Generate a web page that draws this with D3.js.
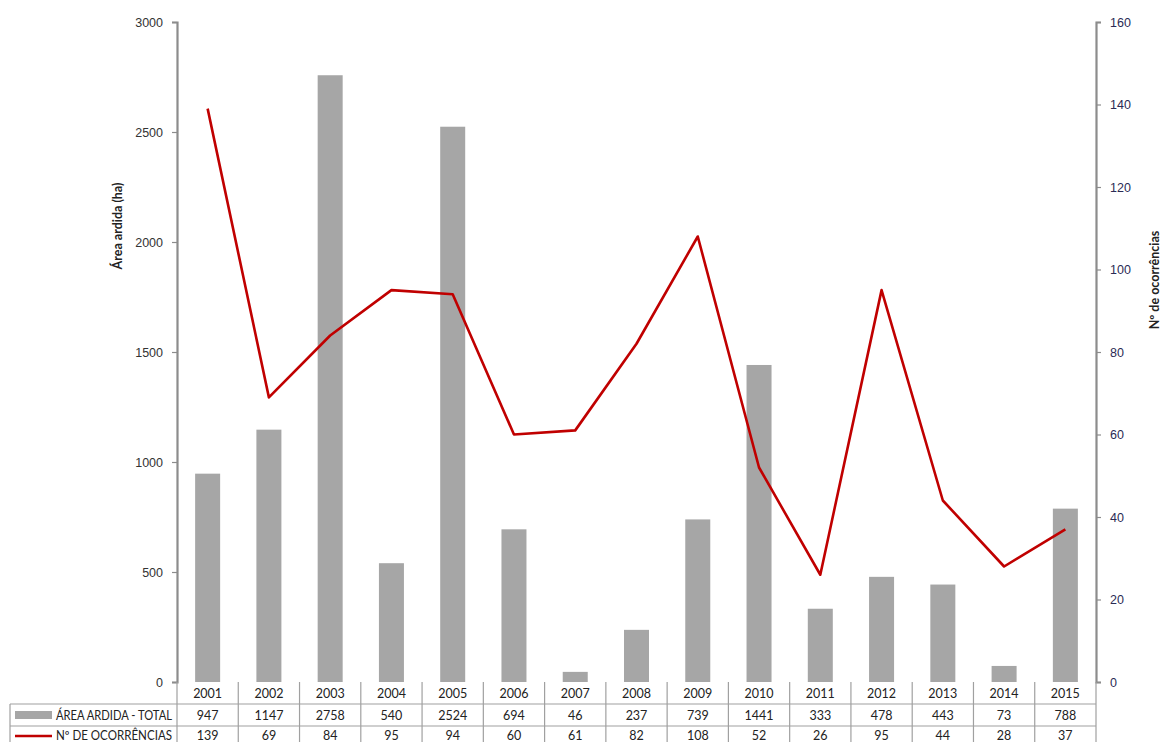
<!DOCTYPE html>
<html>
<head>
<meta charset="utf-8">
<script src="https://cdn.jsdelivr.net/npm/d3@7"></script>
<style>
  html, body { margin: 0; padding: 0; background: #fff; }
  svg { display: block; font-family: Lato, "Open Sans", "Liberation Sans", sans-serif; }
</style>
</head>
<body>
<svg id="chart" width="1162" height="742"></svg>
<script>
// Burnt area and number of fire occurrences per year
const years = ["2001","2002","2003","2004","2005","2006","2007","2008","2009","2010","2011","2012","2013","2014","2015"];
const areaArdida = [947, 1147, 2758, 540, 2524, 694, 46, 237, 739, 1441, 333, 478, 443, 73, 788];
const ocorrencias = [139, 69, 84, 95, 94, 60, 61, 82, 108, 52, 26, 95, 44, 28, 37];
const leftTicks = [0, 500, 1000, 1500, 2000, 2500, 3000];
const rightTicks = [0, 20, 40, 60, 80, 100, 120, 140, 160];
const seriesLabels = ["ÁREA ARDIDA - TOTAL", "Nº DE OCORRÊNCIAS"];

const svg = d3.select("#chart");
const plot = { left: 177, right: 1096, top: 22, bottom: 682 };
const rowH = 22;
const tableLeft = 10;

const x = d3.scaleBand().domain(years).range([plot.left, plot.right]).paddingInner(0).paddingOuter(0);
const yL = d3.scaleLinear().domain([0, 3000]).range([plot.bottom, plot.top]);
const yR = d3.scaleLinear().domain([0, 160]).range([plot.bottom, plot.top]);

const barW = 25;
const axisColor = "#8c8c8c";
const gridColor = "#a0a0a0";
const barColor = "#a6a6a6";
const lineColor = "#c00000";

// Bars
svg.append("g").selectAll("rect").data(years).join("rect")
  .attr("x", d => x(d) + x.bandwidth() / 2 - barW / 2)
  .attr("width", barW)
  .attr("y", (d, i) => yL(areaArdida[i]))
  .attr("height", (d, i) => yL(0) - yL(areaArdida[i]))
  .attr("fill", barColor);

// Line
const line = d3.line()
  .x((d, i) => x(years[i]) + x.bandwidth() / 2)
  .y(d => yR(d));
svg.append("path").datum(ocorrencias)
  .attr("d", line)
  .attr("fill", "none")
  .attr("stroke", lineColor)
  .attr("stroke-width", 2.6)
  .attr("stroke-linejoin", "round");

// Left axis
const gL = svg.append("g").attr("transform", `translate(${plot.left},0)`)
  .call(d3.axisLeft(yL).tickValues(leftTicks).tickSize(5).tickPadding(9).tickFormat(d3.format("d")));
gL.select(".domain").attr("stroke", axisColor).attr("stroke-width", 2.2);
gL.selectAll(".tick line").attr("stroke", axisColor).attr("stroke-width", 1.2);
gL.selectAll(".tick text").attr("fill", "#333").attr("font-size", 12.5);

// Right axis
const gR = svg.append("g").attr("transform", `translate(${plot.right},0)`)
  .call(d3.axisRight(yR).tickValues(rightTicks).tickSize(5).tickPadding(9).tickFormat(d3.format("d")));
gR.select(".domain").attr("stroke", axisColor).attr("stroke-width", 2.2);
gR.selectAll(".tick line").attr("stroke", axisColor).attr("stroke-width", 1.2);
gR.selectAll(".tick text").attr("fill", "#2b2b55").attr("font-size", 12.5);

// Axis titles
svg.append("text")
  .attr("transform", `translate(122,226) rotate(-90)`)
  .attr("text-anchor", "middle")
  .attr("font-size", 12.5).attr("font-weight", "bold").attr("fill", "#222")
  .text("Área ardida (ha)");
svg.append("text")
  .attr("transform", `translate(1159,280) rotate(-90)`)
  .attr("text-anchor", "middle")
  .attr("font-size", 12.5).attr("font-weight", "bold").attr("fill", "#222")
  .text("Nº de ocorrências");

// Data table
const table = svg.append("g");
const t0 = plot.bottom;
const grid = (x1, y1, x2, y2) => table.append("line")
  .attr("x1", x1).attr("y1", y1).attr("x2", x2).attr("y2", y2)
  .attr("stroke", gridColor).attr("stroke-width", 1.2);

// horizontal rules
grid(plot.left, t0 + rowH, plot.right, t0 + rowH);
grid(tableLeft, t0 + rowH, plot.left, t0 + rowH);
grid(tableLeft, t0 + 2 * rowH, plot.right, t0 + 2 * rowH);
grid(tableLeft, t0 + 3 * rowH, plot.right, t0 + 3 * rowH);
// vertical rules
grid(tableLeft, t0 + rowH, tableLeft, t0 + 3 * rowH);
years.forEach(y => grid(x(y), t0, x(y), t0 + 3 * rowH));
grid(plot.right, t0, plot.right, t0 + 3 * rowH);

const cellText = (txt, cx, row) => table.append("text")
  .attr("x", cx).attr("y", t0 + row * rowH + rowH / 2 + 4.5 - (row === 2 ? 1.5 : 0))
  .attr("text-anchor", "middle").attr("font-size", 12.5).attr("fill", "#222")
  .text(txt);

years.forEach((y, i) => {
  const cx = x(y) + x.bandwidth() / 2;
  cellText(y, cx, 0);
  cellText(areaArdida[i], cx, 1);
  cellText(ocorrencias[i], cx, 2);
});

// Legend keys and row labels
table.append("rect")
  .attr("x", 15).attr("y", t0 + rowH + rowH / 2 - 4).attr("width", 37).attr("height", 8)
  .attr("fill", barColor);
table.append("line")
  .attr("x1", 15).attr("x2", 52)
  .attr("y1", t0 + 2 * rowH + rowH / 2 - 1).attr("y2", t0 + 2 * rowH + rowH / 2 - 1)
  .attr("stroke", lineColor).attr("stroke-width", 2.6);
seriesLabels.forEach((lab, i) => {
  table.append("text")
    .attr("x", 172).attr("y", t0 + (i + 1) * rowH + rowH / 2 + 4.5 - (i === 1 ? 1.5 : 0))
    .attr("text-anchor", "end").attr("font-size", 12.5).attr("fill", "#222")
    .attr("textLength", 116).attr("lengthAdjust", "spacingAndGlyphs")
    .text(lab);
});
</script>
</body>
</html>
